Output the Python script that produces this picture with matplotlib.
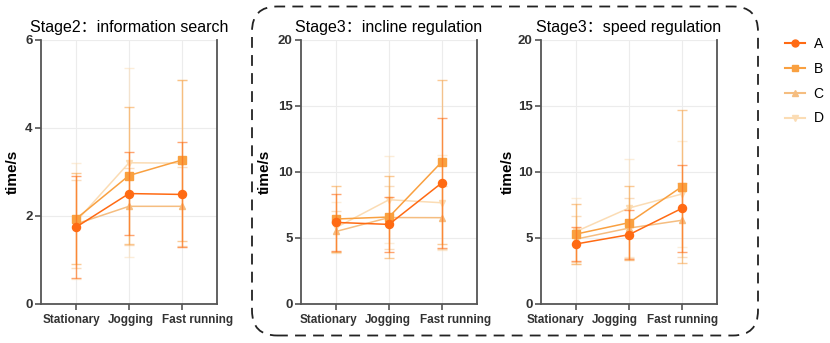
import matplotlib
matplotlib.use('Agg')
from matplotlib import pyplot as plt
from matplotlib.patches import FancyBboxPatch
from matplotlib.lines import Line2D
from matplotlib.transforms import ScaledTranslation

plt.rcParams['font.family'] = ['Liberation Sans', 'Noto Sans CJK SC', 'DejaVu Sans']

categories = ['Stationary', 'Jogging', 'Fast running']
groups = ['A', 'B', 'C', 'D']
titles = ['Stage2\uff1ainformation search', 'Stage3\uff1aincline regulation', 'Stage3\uff1aspeed regulation']
ylims = [6, 20, 20]
yticks = [[0, 2, 4, 6], [0, 5, 10, 15, 20], [0, 5, 10, 15, 20]]

# means / error per panel, per group
info_mean = {'A': [1.75, 2.51, 2.49], 'B': [1.94, 2.92, 3.27],
             'C': [1.82, 2.22, 2.22], 'D': [1.88, 3.21, 3.20]}
info_err = {'A': [1.15, 0.95, 1.20], 'B': [1.03, 1.56, 1.83],
            'C': [1.00, 0.88, 0.90], 'D': [1.32, 2.15, 1.90]}

incline_mean = {'A': [6.18, 6.03, 9.17], 'B': [6.44, 6.59, 10.76],
                'C': [5.50, 6.55, 6.54], 'D': [5.80, 7.90, 7.67]}
incline_err = {'A': [2.15, 2.10, 4.90], 'B': [2.50, 3.10, 6.20],
               'C': [1.55, 2.40, 2.40], 'D': [1.90, 3.30, 3.60]}

speed_mean = {'A': [4.55, 5.25, 7.24], 'B': [5.30, 6.16, 8.88],
              'C': [4.92, 5.75, 6.34], 'D': [5.50, 7.27, 8.33]}
speed_err = {'A': [1.30, 1.85, 3.30], 'B': [2.30, 2.80, 5.80],
             'C': [1.75, 2.30, 2.80], 'D': [2.50, 3.70, 4.00]}

panels = [(info_mean, info_err), (incline_mean, incline_err), (speed_mean, speed_err)]

colors = {'A': '#ff6a13', 'B': '#f9a040', 'C': '#f5bd80', 'D': '#fbdcb4'}
markers = {'A': 'o', 'B': 's', 'C': '^', 'D': 'v'}
msize = {'A': 5.8, 'B': 5.8, 'C': 5, 'D': 5}
err_alpha = {'A': 0.6, 'B': 0.55, 'C': 0.5, 'D': 0.5}

# label shifts (px) -- the original has labels spread out, not centered on ticks
label_shift = [[-5, 2, 16], [-8, -1, 14], [-21, -14, 1]]

fig = plt.figure(figsize=(8.3, 3.43), dpi=100)
lefts = [41, 301, 541]
ylab_dist = [21, 29, 26]
width = 176
bottom = 1 - 304 / 343
height = (304 - 40) / 343

x = list(range(len(categories)))
for i, (means, errs) in enumerate(panels):
  ax = fig.add_axes([lefts[i] / 830, bottom, width / 830, height])
  for g in reversed(groups):
    z = 5 - groups.index(g)
    ax.errorbar(x, means[g], yerr=errs[g], fmt='none', ecolor=colors[g],
                elinewidth=1.0, capsize=3.5, capthick=1.0, alpha=err_alpha[g], zorder=z)
    ax.plot(x, means[g], color=colors[g], linewidth=1.1, marker=markers[g],
            markersize=msize[g], zorder=z + 0.5)
  ax.set_xlim(-0.67, 2.67)
  ax.set_ylim(0, ylims[i])
  ax.set_yticks(yticks[i])
  ax.set_xticks(x)
  ax.set_xticklabels([])
  for k, cat in enumerate(categories):
    tr = ax.get_xaxis_transform() + ScaledTranslation(label_shift[i][k] / 100, -16 / 100,
                                                       fig.dpi_scale_trans)
    ax.text(k, 0, cat, transform=tr, ha='center', va='center', fontsize=8.5,
            fontweight='bold', color='#333333')
  for lab in ax.get_yticklabels():
    lab.set_fontsize(9.5)
    lab.set_fontweight('bold')
    lab.set_color('#333333')
  ax.set_ylabel('time/s', fontsize=11, fontweight='bold')
  ax.yaxis.set_label_coords(-ylab_dist[i] / width, 0.5)
  ax.set_title(titles[i], fontsize=11.5, pad=6)
  ax.grid(True, color='#ececec', linewidth=0.8)
  ax.set_axisbelow(True)
  ax.spines['top'].set_visible(False)
  for s in ('left', 'bottom', 'right'):
    ax.spines[s].set_color('#555555')
    ax.spines[s].set_linewidth(1.3)
  ax.tick_params(axis='both', color='#555555', width=1.2, length=4, pad=2)

# dashed rounded box around the two stage3 panels
box = FancyBboxPatch((2.52, 0.075), 5.06, 3.29,
                     boxstyle='round,pad=0,rounding_size=0.25', transform=fig.dpi_scale_trans,
                     fill=False, edgecolor='#222222', linewidth=1.3, linestyle=(0, (6, 4)))
fig.patches.append(box)

handles = [Line2D([0], [0], color=colors[g], marker=markers[g], markersize=5, linewidth=1.5)
           for g in groups]
fig.legend(handles, groups, loc='upper left', bbox_to_anchor=(785 / 830, 1 - 37 / 343),
           frameon=False, fontsize=10, handlelength=1.45, labelspacing=0.78,
           handletextpad=0.6, borderpad=0, borderaxespad=0)

fig.savefig('out.png', dpi=100)
